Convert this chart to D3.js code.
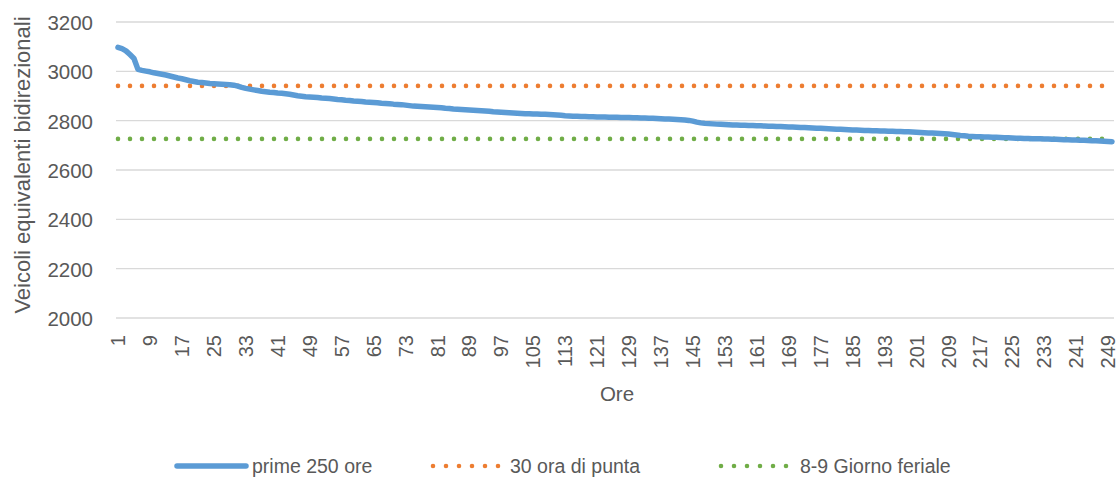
<!DOCTYPE html>
<html>
<head>
<meta charset="utf-8">
<script src="https://cdn.jsdelivr.net/npm/d3@7"></script>
<style>
  html, body { margin: 0; padding: 0; background: #fff; }
  svg text { font-family: "Liberation Sans", "DejaVu Sans", sans-serif; fill: #595959; }
</style>
</head>
<body>
<svg id="chart" width="1120" height="478"></svg>
<script>
// Hours ranked from the busiest (1) to the 250th
const hours = d3.range(1, 251);

// Equivalent two-way vehicles for each ranked hour
const prime250 = [
  3097, 3092, 3083, 3068, 3052, 3008, 3004, 3001, 2998, 2994,
  2991, 2988, 2985, 2981, 2977, 2973, 2970, 2966, 2962, 2959,
  2956, 2955, 2953, 2951, 2950, 2949, 2948, 2947, 2946, 2944,
  2940, 2935, 2931, 2928, 2925, 2922, 2919, 2917, 2915, 2914,
  2912, 2911, 2909, 2907, 2904, 2901, 2899, 2897, 2896, 2895,
  2894, 2892, 2891, 2890, 2888, 2886, 2885, 2883, 2882, 2880,
  2879, 2878, 2876, 2875, 2874, 2873, 2871, 2870, 2869, 2867,
  2866, 2865, 2863, 2861, 2859, 2858, 2857, 2856, 2855, 2854,
  2853, 2852, 2850, 2849, 2847, 2846, 2845, 2844, 2843, 2842,
  2841, 2840, 2839, 2838, 2836, 2835, 2834, 2833, 2832, 2831,
  2830, 2829, 2828, 2828, 2827, 2827, 2826, 2826, 2825, 2824,
  2823, 2822, 2820, 2819, 2818, 2818, 2817, 2817, 2816, 2816,
  2815, 2815, 2815, 2814, 2814, 2814, 2813, 2813, 2813, 2812,
  2812, 2811, 2811, 2810, 2810, 2809, 2808, 2807, 2807, 2806,
  2805, 2804, 2803, 2801, 2798, 2794, 2791, 2789, 2788, 2787,
  2786, 2785, 2784, 2783, 2782, 2782, 2781, 2781, 2780, 2780,
  2779, 2779, 2778, 2777, 2777, 2776, 2776, 2775, 2774, 2774,
  2773, 2772, 2772, 2771, 2770, 2769, 2769, 2768, 2767, 2766,
  2765, 2765, 2764, 2763, 2762, 2762, 2761, 2760, 2760, 2759,
  2759, 2758, 2758, 2757, 2757, 2756, 2756, 2755, 2755, 2754,
  2753, 2752, 2751, 2750, 2750, 2749, 2748, 2747, 2746, 2744,
  2742, 2740, 2739, 2737, 2736, 2735, 2735, 2734, 2734, 2733,
  2733, 2732, 2731, 2731, 2730, 2729, 2729, 2728, 2728, 2727,
  2727, 2727, 2726, 2726, 2725, 2725, 2724, 2723, 2723, 2722,
  2722, 2721, 2721, 2720, 2719, 2719, 2718, 2717, 2716, 2715
];

// Reference levels
const ora30 = 2941;         // 30th peak hour
const giornoFeriale = 2726; // 8-9 weekday

const yTicks = [2000, 2200, 2400, 2600, 2800, 3000, 3200];
const xTickLabels = d3.range(1, 251, 8);

const seriesNames = ["prime 250 ore", "30 ora di punta", "8-9 Giorno feriale"];
const colors = ["#5B9BD5", "#ED7D31", "#70AD47"];

const svg = d3.select("#chart");
const plot = { left: 116, right: 1114, top: 22, bottom: 318 };

const x = d3.scaleBand().domain(hours).range([plot.left, plot.right]);
const cx = d => x(d) + x.bandwidth() / 2;
const y = d3.scaleLinear().domain([2000, 3200]).range([plot.bottom, plot.top]);

// Horizontal gridlines
svg.append("g")
  .selectAll("line")
  .data(yTicks)
  .join("line")
  .attr("x1", plot.left).attr("x2", plot.right)
  .attr("y1", d => y(d)).attr("y2", d => y(d))
  .attr("stroke", "#D9D9D9").attr("stroke-width", 1.3);

// Y axis labels
const yAxis = d3.axisLeft(y).tickValues(yTicks).tickFormat(d3.format("d")).tickSize(0).tickPadding(0);
svg.append("g")
  .attr("transform", `translate(${93},0)`)
  .call(yAxis)
  .call(g => g.select(".domain").remove())
  .call(g => g.selectAll("text")
    .attr("fill", "#595959")
    .style("font-size", "20.5px")
    .attr("x", 0)
    .attr("dy", "0.36em"));

// X axis labels, rotated
const xAxis = d3.axisBottom(x).tickValues(xTickLabels).tickSize(0).tickPadding(0);
svg.append("g")
  .attr("transform", `translate(0,${plot.bottom})`)
  .call(xAxis)
  .call(g => g.select(".domain").remove())
  .call(g => g.selectAll("text")
    .attr("fill", "#595959")
    .style("font-size", "20px")
    .attr("text-anchor", "end")
    .attr("transform", "rotate(-90)")
    .attr("x", -17)
    .attr("y", 0)
    .attr("dy", "0.36em"));

// Axis titles
svg.append("text")
  .attr("transform", `translate(30,${(plot.top + plot.bottom) / 2 - 5}) rotate(-90)`)
  .attr("text-anchor", "middle")
  .style("font-size", "22px")
  .text("Veicoli equivalenti bidirezionali");

svg.append("text")
  .attr("x", (plot.left + plot.right) / 2 + 2)
  .attr("y", 401)
  .attr("text-anchor", "middle")
  .style("font-size", "20.5px")
  .text("Ore");

// Reference lines (dotted)
const refLevels = [ora30, giornoFeriale];
svg.append("g")
  .selectAll("line")
  .data(refLevels)
  .join("line")
  .attr("x1", cx(hours[0])).attr("x2", cx(hours[hours.length - 1]))
  .attr("y1", d => y(d)).attr("y2", d => y(d))
  .attr("stroke", (d, i) => colors[i + 1])
  .attr("stroke-width", 4.6)
  .attr("stroke-linecap", "round")
  .attr("stroke-dasharray", "0 12");

// Ranked hourly volumes
const line = d3.line()
  .x((d, i) => cx(hours[i]))
  .y(d => y(d))
  .curve(d3.curveLinear);

svg.append("path")
  .datum(prime250)
  .attr("d", line)
  .attr("fill", "none")
  .attr("stroke", colors[0])
  .attr("stroke-width", 5.5)
  .attr("stroke-linecap", "round")
  .attr("stroke-linejoin", "round");

// Legend
const legendY = 466;
const legendItems = [
  { name: seriesNames[0], x0: 177, x1: 246, tx: 252, dash: null, w: 5.5 },
  { name: seriesNames[1], x0: 433, x1: 499, tx: 510, dash: "0 13", w: 4.6 },
  { name: seriesNames[2], x0: 721, x1: 789, tx: 800, dash: "0 13", w: 4.6 }
];
const lg = svg.append("g").selectAll("g").data(legendItems).join("g");
lg.append("line")
  .attr("x1", d => d.x0).attr("x2", d => d.x1)
  .attr("y1", legendY).attr("y2", legendY)
  .attr("stroke", (d, i) => colors[i])
  .attr("stroke-width", d => d.w)
  .attr("stroke-linecap", "round")
  .attr("stroke-dasharray", d => d.dash);
lg.append("text")
  .attr("x", d => d.tx)
  .attr("y", legendY)
  .attr("dy", "0.36em")
  .style("font-size", "19.5px")
  .text(d => d.name);
</script>
</body>
</html>
